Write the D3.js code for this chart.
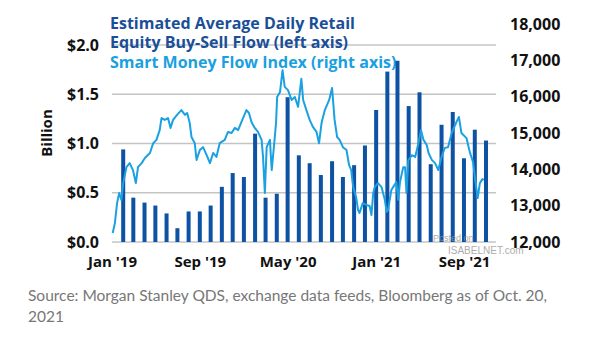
<!DOCTYPE html>
<html>
<head>
<meta charset="utf-8">
<script src="https://cdn.jsdelivr.net/npm/d3@7"></script>
<style>
  body { margin: 0; background: #fff; }
  svg { display: block; }
</style>
</head>
<body>
<div id="chart"></div>
<script>
// monthly retail buy-sell flow, $ billion (left axis)
var flowMonths = ["2019-01","2019-02","2019-03","2019-04","2019-05","2019-06","2019-07","2019-08","2019-09","2019-10","2019-11","2019-12",
  "2020-01","2020-02","2020-03","2020-04","2020-05","2020-06","2020-07","2020-08","2020-09","2020-10","2020-11","2020-12",
  "2021-01","2021-02","2021-03","2021-04","2021-05","2021-06","2021-07","2021-08","2021-09","2021-10"];
var flowValues = [0.94,0.45,0.40,0.37,0.29,0.14,0.31,0.31,0.37,0.56,0.70,0.66,
  1.10,0.45,0.49,1.47,0.88,0.80,0.68,0.82,0.66,0.78,0.98,1.34,
  1.73,1.84,1.38,1.52,0.79,1.19,1.32,0.85,1.14,1.03];

// smart money flow index (right axis)
var smfDates = ["2019-01-03","2019-01-09","2019-01-15","2019-01-21","2019-01-27","2019-02-01","2019-02-10","2019-02-19","2019-02-28","2019-03-08",
  "2019-03-14","2019-03-24","2019-04-02","2019-04-16","2019-04-25","2019-05-04","2019-05-13","2019-05-18","2019-05-27","2019-06-05",
  "2019-06-12","2019-06-19","2019-06-30","2019-07-12","2019-07-22","2019-07-28","2019-08-04","2019-08-09","2019-08-18","2019-08-23",
  "2019-09-01","2019-09-10","2019-09-20","2019-09-29","2019-10-08","2019-10-17","2019-10-26","2019-11-09","2019-11-18","2019-11-28",
  "2019-12-07","2019-12-16","2019-12-25","2020-01-08","2020-01-15","2020-01-22","2020-01-31","2020-02-09","2020-02-19","2020-02-23",
  "2020-02-28","2020-03-04","2020-03-13","2020-03-18","2020-03-24","2020-03-30","2020-04-02","2020-04-10","2020-04-17","2020-04-23",
  "2020-05-02","2020-05-12","2020-05-21","2020-05-30","2020-06-08","2020-06-13","2020-06-22","2020-07-01","2020-07-10","2020-07-20",
  "2020-07-27","2020-08-03","2020-08-12","2020-08-24","2020-09-01","2020-09-08","2020-09-15","2020-09-22","2020-10-01","2020-10-11",
  "2020-10-18","2020-10-24","2020-10-29","2020-11-07","2020-11-12","2020-11-16","2020-11-25","2020-12-05","2020-12-14","2020-12-19",
  "2020-12-24","2020-12-28","2021-01-06","2021-01-16","2021-01-25","2021-01-30","2021-02-03","2021-02-12","2021-02-17","2021-02-26",
  "2021-03-03","2021-03-08","2021-03-17","2021-03-22","2021-03-26","2021-03-31","2021-04-10","2021-04-19","2021-04-28","2021-05-05",
  "2021-05-12","2021-05-21","2021-05-26","2021-06-04","2021-06-13","2021-06-22","2021-07-01","2021-07-10","2021-07-19","2021-07-29",
  "2021-08-11","2021-08-18","2021-08-25","2021-09-08","2021-09-17","2021-09-26","2021-10-03","2021-10-09","2021-10-15","2021-10-22",
  "2021-10-26"];
var smfValues = [12250,12520,13070,13350,13160,13620,14060,14170,13980,13620,
  14060,14170,14310,14450,14720,14810,15080,15410,15360,15410,
  15140,15360,15500,15630,15500,15550,15280,14890,14720,14260,
  14530,14610,14390,14170,14450,14340,14720,14810,15030,15000,
  15140,15080,15300,15630,15550,15300,15140,15030,14810,14340,
  13350,14610,14810,13980,14610,15280,15990,16130,16730,16270,
  16180,15910,15990,15720,16490,15910,15630,15360,15170,15030,
  14720,15280,15630,15910,16240,15360,14890,14810,14610,14530,
  14120,13980,13540,13210,12880,12800,13070,13020,12990,12740,
  13350,13510,13620,13510,13160,12830,12880,13430,13510,13650,
  13160,13650,14060,14060,13350,14250,14390,14340,14720,15080,
  14810,14670,14450,14260,14170,13980,14340,14590,14610,15000,
  15300,15440,15000,14860,14480,14200,13650,13210,13620,13730,
  13710];

var leftTicks = [0, 0.5, 1.0, 1.5, 2.0];
var rightTicks = [12000, 13000, 14000, 15000, 16000, 17000, 18000];
var xTickDates = ["2019-01-01", "2019-09-01", "2020-05-01", "2021-01-01", "2021-09-01"];

var titleLines = [
  {text: "Estimated Average Daily Retail", color: "#1a4f98"},
  {text: "Equity Buy-Sell Flow (left axis)", color: "#1a4f98"},
  {text: "Smart Money Flow Index (right axis)", color: "#1a9fdf"}
];

var width = 605, height = 341;
var parseDay = d3.timeParse("%Y-%m-%d");
var parseMonth = d3.timeParse("%Y-%m");
var fmtTick = d3.timeFormat("%b '%y");
var fontBold = "'Open Sans', 'Noto Sans', sans-serif";

var x = d3.scaleTime()
    .domain([parseDay("2019-01-01"), parseDay("2021-11-01")])
    .range([112, 486]);

var yLeft = d3.scaleLinear()
    .domain([0, 2])
    .range([242, 45]);

var yRight = d3.scaleLinear()
    .domain([12000, 18000])
    .range([242, 24]);

var svg = d3.select("#chart").append("svg")
    .attr("width", width)
    .attr("height", height);

// gridlines from the left axis
svg.append("g")
  .selectAll("line")
  .data(leftTicks)
  .enter()
  .append("line")
    .attr("x1", 112)
    .attr("x2", 496)
    .attr("y1", function(d) { return yLeft(d); })
    .attr("y2", function(d) { return yLeft(d); })
    .attr("stroke", "#c4c4c4")
    .attr("stroke-width", 1.5);

// title / legend text
svg.append("g")
  .selectAll("text")
  .data(titleLines)
  .enter()
  .append("text")
    .attr("x", 110)
    .attr("y", function(d, i) { return 29 + i * 19.3; })
    .attr("fill", function(d) { return d.color; })
    .style("font-family", fontBold)
    .style("font-weight", "bold")
    .style("font-size", "16px")
    .text(function(d) { return d.text; });

// bars, placed at month end
var bars = flowMonths.map(function(m, i) {
  return {date: d3.timeMonth.offset(parseMonth(m), 1), value: flowValues[i]};
});

svg.append("g")
  .selectAll("rect")
  .data(bars)
  .enter()
  .append("rect")
    .attr("x", function(d) { return x(d.date) - 2; })
    .attr("y", function(d) { return yLeft(d.value); })
    .attr("width", 4)
    .attr("height", function(d) { return yLeft(0) - yLeft(d.value); })
    .attr("fill", "#0d52a3");

// smart money line
var smf = smfDates.map(function(d, i) {
  return {date: parseDay(d), value: smfValues[i]};
});

var line = d3.line()
    .x(function(d) { return x(d.date); })
    .y(function(d) { return yRight(d.value); });

svg.append("path")
    .datum(smf)
    .attr("d", line)
    .attr("fill", "none")
    .attr("stroke", "#1ba1e2")
    .attr("stroke-width", 2)
    .attr("stroke-linejoin", "round");

// left axis
var leftAxis = d3.axisLeft(yLeft)
    .tickValues(leftTicks)
    .tickSize(0)
    .tickPadding(0)
    .tickFormat(function(d) { return "$" + d3.format(".1f")(d); });

svg.append("g")
    .attr("transform", "translate(99,0)")
    .call(leftAxis)
    .call(function(g) { g.select(".domain").remove(); })
    .selectAll("text")
    .attr("fill", "#111")
    .style("font-family", fontBold)
    .style("font-weight", "bold")
    .style("font-size", "16px");

// right axis
var rightAxis = d3.axisRight(yRight)
    .tickValues(rightTicks)
    .tickSize(0)
    .tickPadding(0)
    .tickFormat(d3.format(","));

svg.append("g")
    .attr("transform", "translate(510,0)")
    .call(rightAxis)
    .call(function(g) { g.select(".domain").remove(); })
    .selectAll("text")
    .attr("fill", "#111")
    .style("font-family", fontBold)
    .style("font-weight", "bold")
    .style("font-size", "16px");

// x axis
var xAxis = d3.axisBottom(x)
    .tickValues(xTickDates.map(parseDay))
    .tickSize(0)
    .tickPadding(0)
    .tickFormat(fmtTick);

svg.append("g")
    .attr("transform", "translate(0,256)")
    .call(xAxis)
    .call(function(g) { g.select(".domain").remove(); })
    .selectAll("text")
    .attr("fill", "#111")
    .style("font-family", fontBold)
    .style("font-weight", "bold")
    .style("font-size", "15px");

// y label
svg.append("text")
    .attr("transform", "translate(52,133) rotate(-90)")
    .attr("text-anchor", "middle")
    .attr("fill", "#111")
    .style("font-family", fontBold)
    .style("font-weight", "bold")
    .style("font-size", "15px")
    .text("Billion");

// watermark
svg.append("text")
    .attr("x", 433)
    .attr("y", 241)
    .attr("fill", "#999")
    .attr("opacity", 0.8)
    .style("font-family", "'Liberation Sans', Arial, sans-serif")
    .style("font-size", "9px")
    .text("Posted on");

svg.append("text")
    .attr("x", 448)
    .attr("y", 254)
    .attr("fill", "#999")
    .attr("opacity", 0.8)
    .style("font-family", "'Liberation Sans', Arial, sans-serif")
    .style("font-size", "10px")
    .text("ISABELNET.com");

// source note
var sourceLines = ["Source: Morgan Stanley QDS, exchange data feeds, Bloomberg as of Oct. 20,", "2021"];

svg.append("g")
  .selectAll("text")
  .data(sourceLines)
  .enter()
  .append("text")
    .attr("x", 28)
    .attr("y", function(d, i) { return 301 + i * 21; })
    .attr("fill", "#777")
    .style("font-family", "Lato, sans-serif")
    .style("font-size", "15.5px")
    .text(function(d) { return d; });
</script>
</body>
</html>
